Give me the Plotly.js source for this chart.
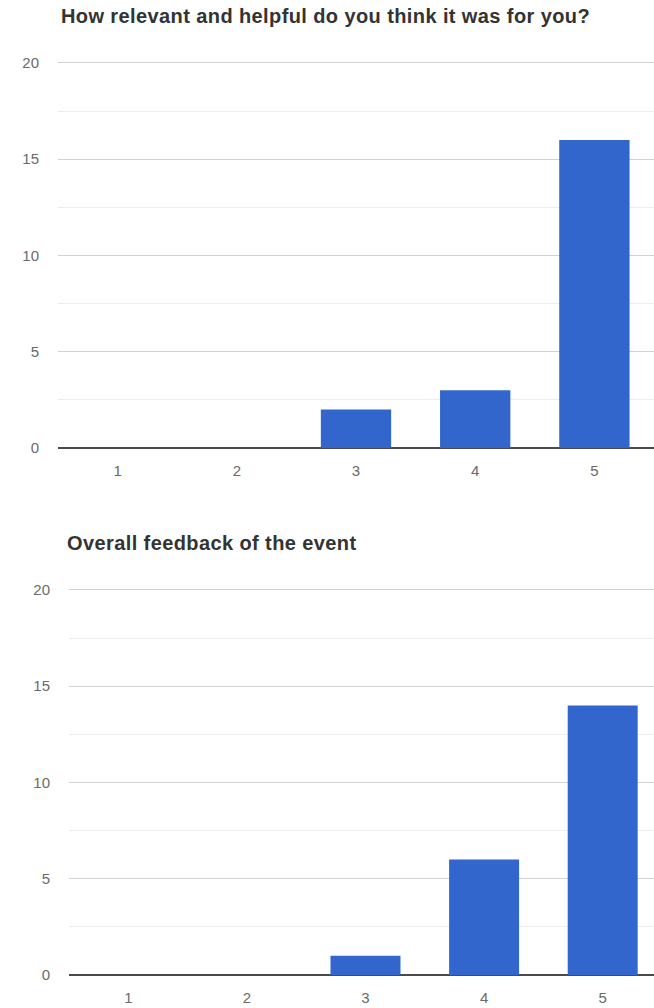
<!DOCTYPE html>
<html>
<head>
<meta charset="utf-8">
<script src="https://cdn.plot.ly/plotly-3.0.1.min.js"></script>
<style>
  html, body { margin: 0; padding: 0; background: #fff; overflow: hidden; width: 654px; height: 1008px; }
  #c1 { position: absolute; left: 0; top: 0; width: 654px; height: 500px; }
  #c2 { position: absolute; left: 0; top: 527px; width: 662px; height: 481px; }
  .gtitle { letter-spacing: 0.4px; }
</style>
</head>
<body>
<div id="c1"></div>
<div id="c2"></div>
<script>
const categories = ['1', '2', '3', '4', '5'];
const relevanceCounts = [0, 0, 2, 3, 16];
const overallCounts = [0, 0, 1, 6, 14];
const title1 = 'How relevant and helpful do you think it was for you?';
const title2 = 'Overall feedback of the event';
const yTicks = [0, 5, 10, 15, 20];

const barColor = '#3366cc';
const fontFam = 'Liberation Sans, Arial, sans-serif';

function makeLayout(title, w, h, l, t, b, titleX, titleY) {
  return {
    width: w, height: h,
    margin: {l: l, r: 0, t: t, b: b, pad: 0},
    paper_bgcolor: '#fff', plot_bgcolor: '#fff',
    showlegend: false,
    bargap: 0.41,
    font: {family: fontFam, size: 15, color: '#666'},
    title: {
      text: title,
      font: {family: fontFam, size: 20, color: '#333', weight: 'bold'},
      xref: 'container', yref: 'container',
      x: titleX / w, xanchor: 'left',
      y: 1 - titleY / h, yanchor: 'middle'
    },
    xaxis: {
      type: 'category',
      range: [-0.5, 4.5],
      showgrid: false,
      showline: false,
      zeroline: false,
      ticks: '',
      ticklabelstandoff: 12,
      tickfont: {family: fontFam, size: 15, color: '#6a6a6a'},
      fixedrange: true
    },
    yaxis: {
      range: [0, 20.1],
      tickvals: yTicks,
      ticktext: yTicks.map(String),
      showgrid: true,
      gridcolor: '#d2d2d2',
      gridwidth: 1,
      zeroline: true,
      zerolinecolor: '#4a4a4a',
      zerolinewidth: 2,
      showline: false,
      ticks: '',
      ticklabelstandoff: 18,
      tickfont: {family: fontFam, size: 15, color: '#6a6a6a'},
      minor: {dtick: 2.5, tick0: 0, showgrid: true, gridcolor: '#ededed', gridwidth: 1},
      fixedrange: true
    }
  };
}

const trace1 = {type: 'bar', x: categories, y: relevanceCounts, marker: {color: barColor}, hoverinfo: 'none'};
const trace2 = {type: 'bar', x: categories, y: overallCounts, marker: {color: barColor}, hoverinfo: 'none'};

// chart 1: y=20 at pixel 63, zero at pixel 448
Plotly.newPlot('c1', [trace1], makeLayout(title1, 654, 500, 58, 61, 52, 61, 16), {displayModeBar: false, staticPlot: true});
// chart 2: offset 527; y=20 at 590, zero at 975
Plotly.newPlot('c2', [trace2], makeLayout(title2, 662, 481, 69, 61, 33, 67, 16), {displayModeBar: false, staticPlot: true});
</script>
</body>
</html>
